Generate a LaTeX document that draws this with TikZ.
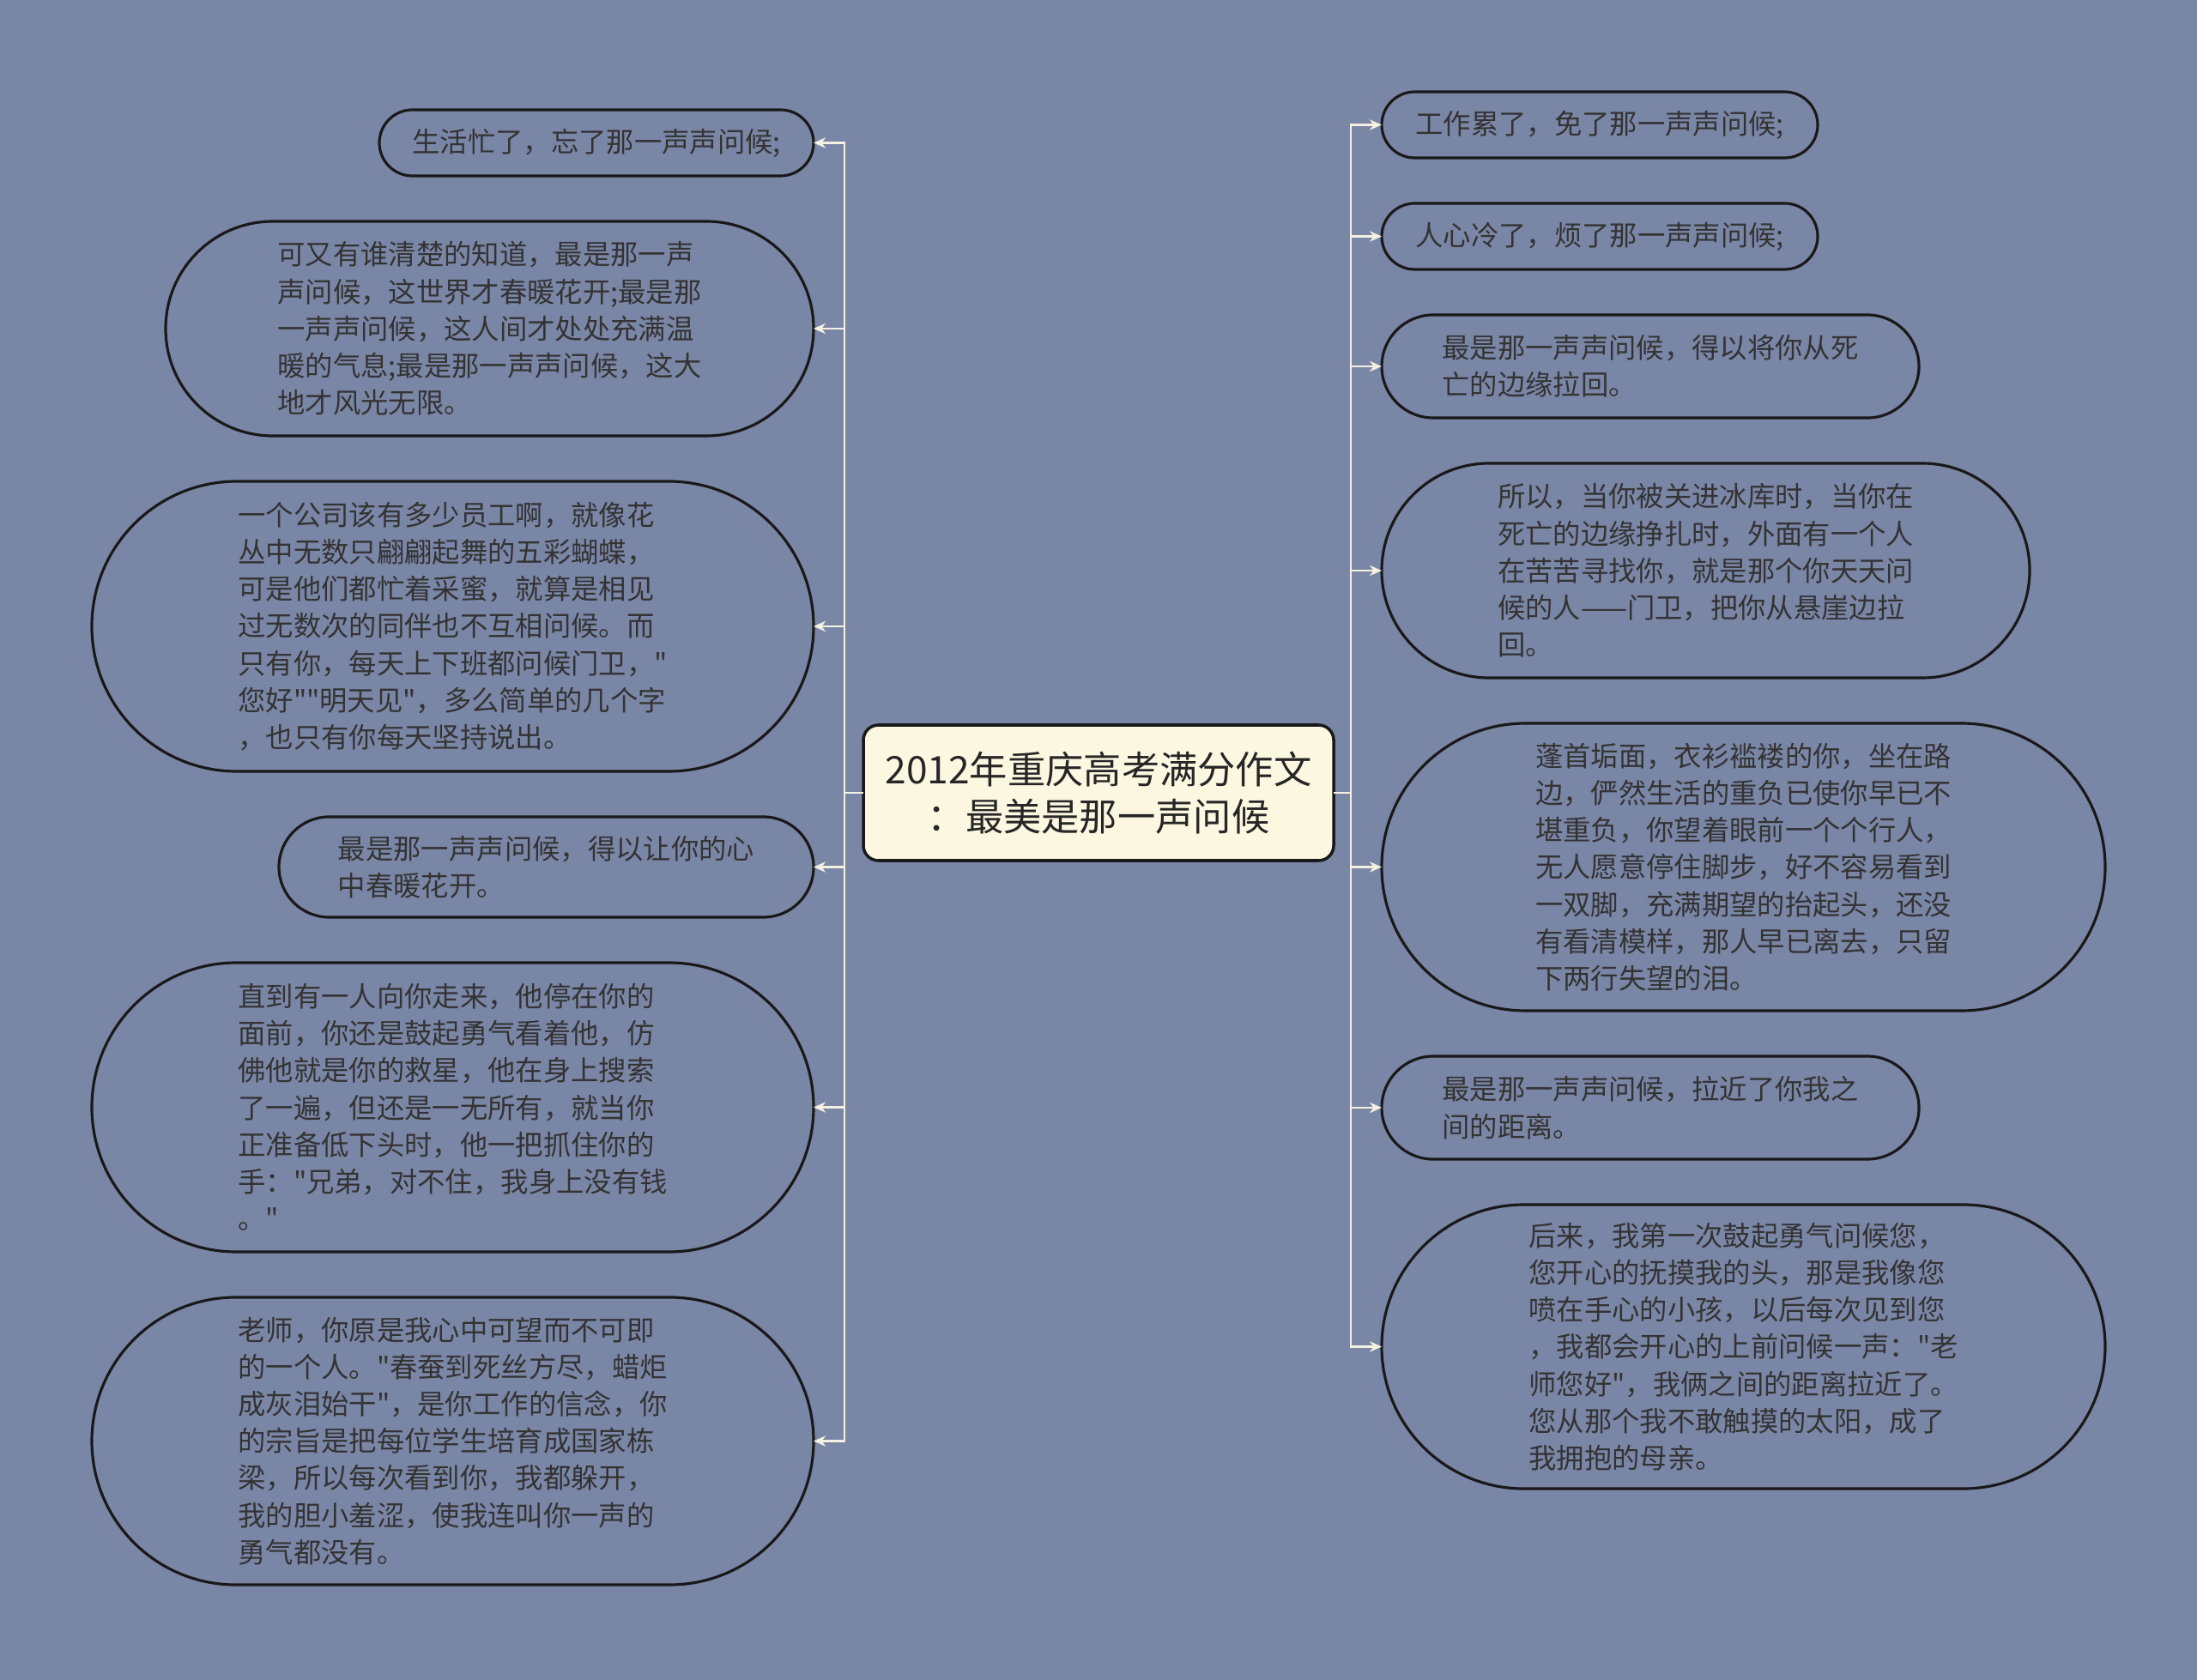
\documentclass[tikz,border=0pt]{standalone}
\usepackage{fontspec}
\newfontfamily\cjkfont{Noto Sans CJK SC}
\usepackage{tikz}
\usetikzlibrary{positioning, arrows.meta}

\definecolor{bgslate}{HTML}{7A86A6}
\definecolor{topicfill}{HTML}{FCF7E1}
\definecolor{branchcol}{HTML}{F4F0E2}
\definecolor{leaftext}{HTML}{333333}

\begin{document}
\begin{tikzpicture}[
  font=\cjkfont\fontsize{9.2}{12.3}\selectfont,
  leaf/.style 2 args={draw=black!90, line width=0.9pt, text=leaftext, align=left,
    inner sep=0pt, outer sep=0pt, minimum width=#1, minimum height=#2,
    rounded corners=0.5*#2},
  topic/.style={draw=black!90, line width=1pt, fill=topicfill, rounded corners=5pt,
    align=center, minimum width=5.48cm, minimum height=1.58cm, text=black!85,
    outer sep=0pt, font=\cjkfont\fontsize{12.6}{15.8}\selectfont},
  branch/.style={draw=branchcol, line width=0.6pt, -{Stealth[length=4pt,width=3.5pt]}},
]
  \fill[bgslate] (0,0) rectangle (25.6,-19.58);
  \useasboundingbox (0,0) rectangle (25.6,-19.58);

  \node[topic] (topic) at (12.80,-9.24) {2012年重庆高考满分作文\\：最美是那一声问候};

  % left column, right edges aligned
  \node[leaf={5.06cm}{0.77cm}, anchor=north east] (l1) at (9.48,-1.28)
        {生活忙了，忘了那一声声问候;};
  \node[leaf={7.55cm}{2.50cm}, below left=0.53cm and 0cm of l1.south east] (l2)
        {可又有谁清楚的知道，最是那一声\\声问候，这世界才春暖花开;最是那\\一声声问候，这人间才处处充满温\\暖的气息;最是那一声声问候，这大\\地才风光无限。};
  \node[leaf={8.41cm}{3.38cm}, below left=0.53cm and 0cm of l2.south east] (l3)
        {一个公司该有多少员工啊，就像花\\丛中无数只翩翩起舞的五彩蝴蝶，\\可是他们都忙着采蜜，就算是相见\\过无数次的同伴也不互相问候。而\\只有你，每天上下班都问候门卫，"\\您好""明天见"，多么简单的几个字\\，也只有你每天坚持说出。};
  \node[leaf={6.23cm}{1.17cm}, below left=0.53cm and 0cm of l3.south east] (l4)
        {最是那一声声问候，得以让你的心\\中春暖花开。};
  \node[leaf={8.41cm}{3.37cm}, below left=0.53cm and 0cm of l4.south east] (l5)
        {直到有一人向你走来，他停在你的\\面前，你还是鼓起勇气看着他，仿\\佛他就是你的救星，他在身上搜索\\了一遍，但还是一无所有，就当你\\正准备低下头时，他一把抓住你的\\手："兄弟，对不住，我身上没有钱\\。"};
  \node[leaf={8.41cm}{3.35cm}, below left=0.53cm and 0cm of l5.south east] (l6)
        {老师，你原是我心中可望而不可即\\的一个人。"春蚕到死丝方尽，蜡炬\\成灰泪始干"，是你工作的信念，你\\的宗旨是把每位学生培育成国家栋\\梁，所以每次看到你，我都躲开，\\我的胆小羞涩，使我连叫你一声的\\勇气都没有。};

  % right column, left edges aligned
  \node[leaf={5.08cm}{0.77cm}, anchor=north west] (r1) at (16.10,-1.07)
        {工作累了，免了那一声声问候;};
  \node[leaf={5.08cm}{0.77cm}, below right=0.53cm and 0cm of r1.south west] (r2)
        {人心冷了，烦了那一声声问候;};
  \node[leaf={6.26cm}{1.20cm}, below right=0.53cm and 0cm of r2.south west] (r3)
        {最是那一声声问候，得以将你从死\\亡的边缘拉回。};
  \node[leaf={7.55cm}{2.50cm}, below right=0.53cm and 0cm of r3.south west] (r4)
        {所以，当你被关进冰库时，当你在\\死亡的边缘挣扎时，外面有一个人\\在苦苦寻找你，就是那个你天天问\\候的人——门卫，把你从悬崖边拉\\回。};
  \node[leaf={8.43cm}{3.35cm}, below right=0.53cm and 0cm of r4.south west] (r5)
        {蓬首垢面，衣衫褴褛的你，坐在路\\边，俨然生活的重负已使你早已不\\堪重负，你望着眼前一个个行人，\\无人愿意停住脚步，好不容易看到\\一双脚，充满期望的抬起头，还没\\有看清模样，那人早已离去，只留\\下两行失望的泪。};
  \node[leaf={6.26cm}{1.20cm}, below right=0.53cm and 0cm of r5.south west] (r6)
        {最是那一声声问候，拉近了你我之\\间的距离。};
  \node[leaf={8.43cm}{3.31cm}, below right=0.53cm and 0cm of r6.south west] (r7)
        {后来，我第一次鼓起勇气问候您，\\您开心的抚摸我的头，那是我像您\\喷在手心的小孩，以后每次见到您\\，我都会开心的上前问候一声："老\\师您好"，我俩之间的距离拉近了。\\您从那个我不敢触摸的太阳，成了\\我拥抱的母亲。};

  \coordinate (ljoin) at (9.84,-9.24);
  \coordinate (rjoin) at (15.74,-9.24);
  \foreach \n in {l1,l2,l3,l4,l5,l6}
    \draw[branch] (topic.west) -- (ljoin) |- (\n.east);
  \foreach \n in {r1,r2,r3,r4,r5,r6,r7}
    \draw[branch] (topic.east) -- (rjoin) |- (\n.west);
\end{tikzpicture}
\end{document}
